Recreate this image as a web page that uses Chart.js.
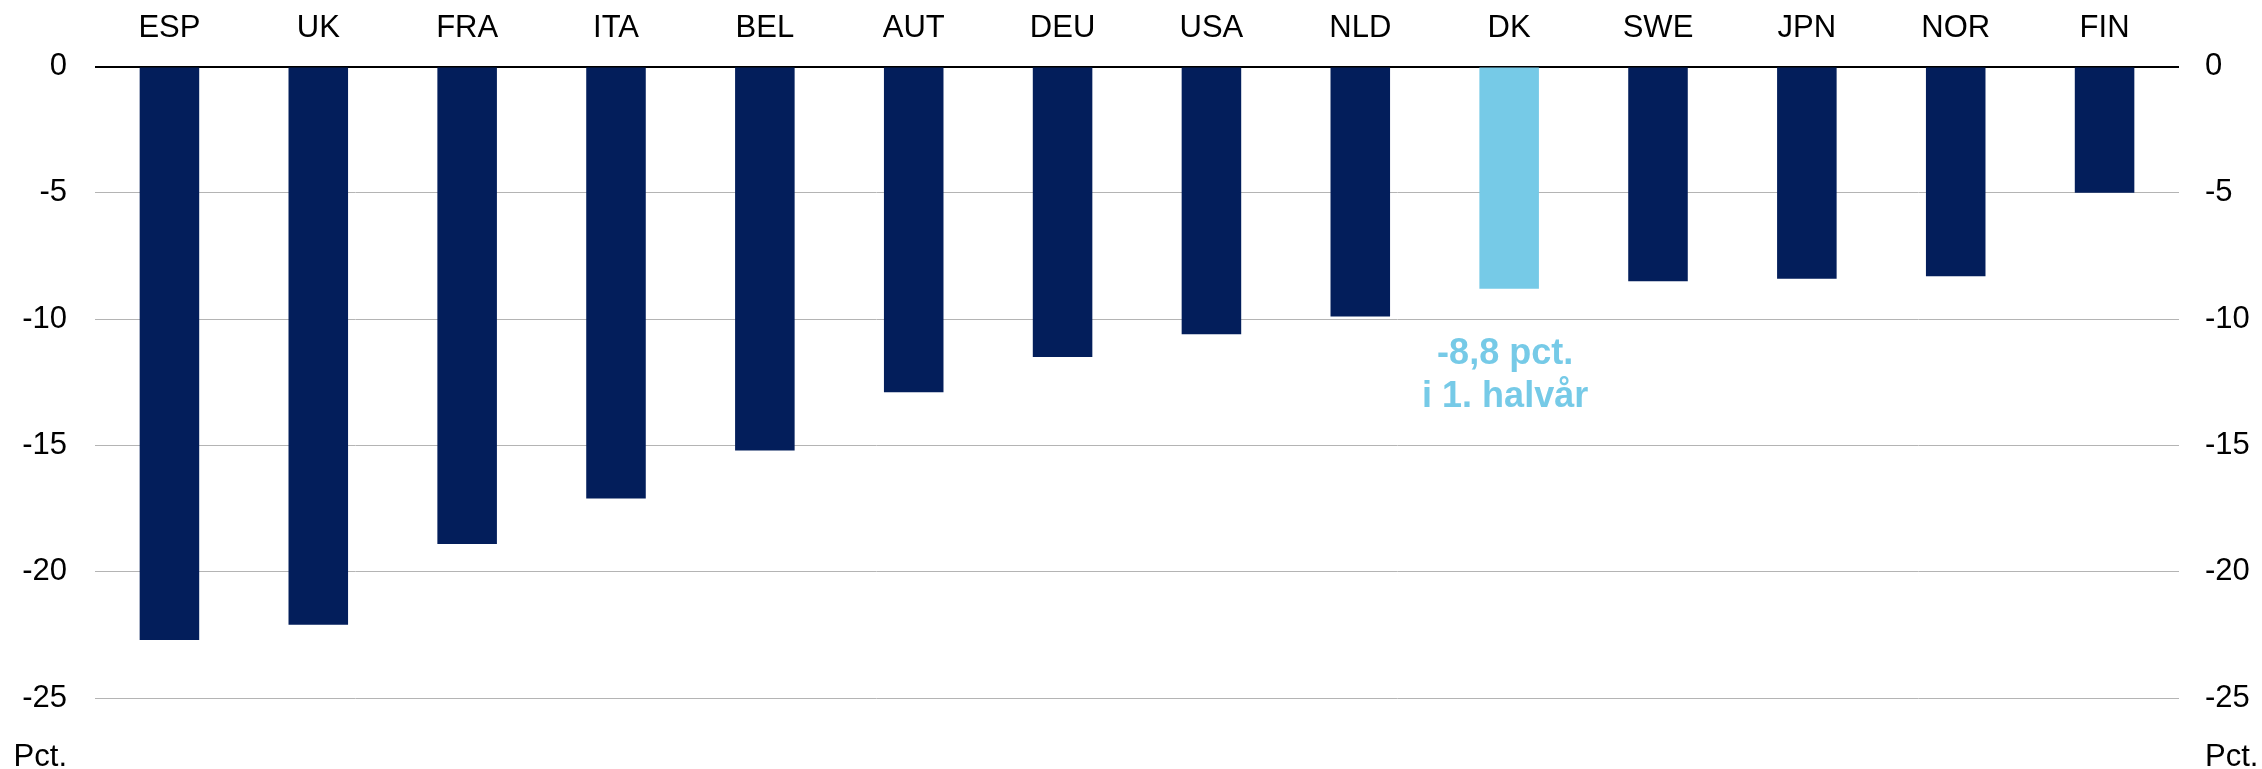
<!DOCTYPE html>
<html>
<head>
<meta charset="utf-8">
<script src="https://cdn.jsdelivr.net/npm/chart.js@4.4.1/dist/chart.umd.min.js"></script>
<style>
  html, body { margin: 0; padding: 0; background: #fff; }
  #wrap { width: 2262px; height: 769px; position: relative; }
</style>
</head>
<body>
<div id="wrap"><canvas id="chart"></canvas></div>
<script>
const categories = ['ESP', 'UK', 'FRA', 'ITA', 'BEL', 'AUT', 'DEU', 'USA', 'NLD', 'DK', 'SWE', 'JPN', 'NOR', 'FIN'];
const values = [-22.7, -22.1, -18.9, -17.1, -15.2, -12.9, -11.5, -10.6, -9.9, -8.8, -8.5, -8.4, -8.3, -5.0];
const highlight = 'DK';
const annotationLines = ['-8,8 pct.', 'i 1. halvår'];
const unitLabel = 'Pct.';

const NAVY = '#031E5B';
const LIGHT = '#76CAE7';
const FONT = "'Liberation Sans', Arial, sans-serif";

// extra text: unit labels under both axes and the DK note
const extraText = {
    id: 'extraText',
    afterDraw(chart) {
        const ctx = chart.ctx;
        const y = chart.scales.y;
        const x = chart.scales.x;
        ctx.save();
        ctx.fillStyle = '#000';
        ctx.font = '31px ' + FONT;
        ctx.textBaseline = 'middle';
        ctx.textAlign = 'right';
        ctx.fillText(unitLabel, y.right - 28, 757);
        ctx.textAlign = 'left';
        ctx.fillText(unitLabel, chart.scales.y2.left + 26, 757);

        const idx = categories.indexOf(highlight);
        const cx = x.getPixelForValue(idx);
        ctx.fillStyle = LIGHT;
        ctx.font = 'bold 36px ' + FONT;
        ctx.textAlign = 'center';
        ctx.fillText(annotationLines[0], cx - 4, y.getPixelForValue(-11.37));
        ctx.fillText(annotationLines[1], cx - 4, y.getPixelForValue(-13.09));
        ctx.restore();
    }
};

const ctx = document.getElementById('chart').getContext('2d');
new Chart(ctx, {
    type: 'bar',
    data: {
        labels: categories,
        datasets: [{
            data: values,
            backgroundColor: categories.map(c => c === highlight ? LIGHT : NAVY),
            categoryPercentage: 1.0,
            barPercentage: 0.4
        }]
    },
    options: {
        responsive: true,
        maintainAspectRatio: false,
        animation: false,
        layout: { padding: { left: 0, right: 0, top: 0, bottom: 71 } },
        plugins: {
            legend: { display: false },
            tooltip: { enabled: false }
        },
        scales: {
            x: {
                position: 'top',
                grid: { display: false, drawTicks: false },
                border: { display: false },
                ticks: {
                    color: '#000',
                    font: { family: FONT, size: 31 },
                    padding: 19,
                    maxRotation: 0
                },
                afterFit(scale) { scale.height = 66.5; }
            },
            y: {
                position: 'left',
                min: -25,
                max: 0,
                grid: {
                    drawTicks: false,
                    color: c => c.tick.value === 0 ? '#000' : '#B4B4B4',
                    lineWidth: c => c.tick.value === 0 ? 2 : 1
                },
                border: { display: false },
                ticks: {
                    stepSize: 5,
                    color: '#000',
                    font: { family: FONT, size: 31 },
                    padding: 28
                },
                afterFit(scale) { scale.width = 95; }
            },
            y2: {
                position: 'right',
                min: -25,
                max: 0,
                grid: { display: false, drawTicks: false },
                border: { display: false },
                ticks: {
                    stepSize: 5,
                    color: '#000',
                    font: { family: FONT, size: 31 },
                    padding: 26
                },
                afterFit(scale) { scale.width = 83; }
            }
        }
    },
    plugins: [extraText]
});
</script>
</body>
</html>
